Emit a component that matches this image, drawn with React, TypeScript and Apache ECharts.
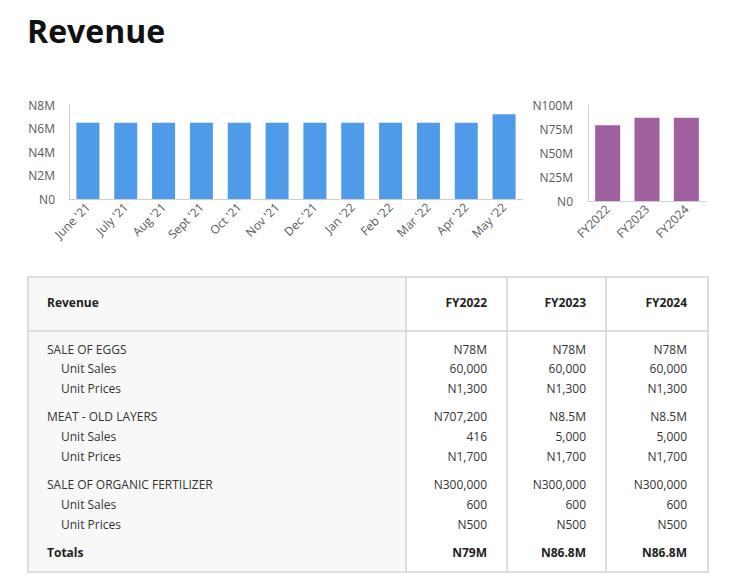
import React, { useEffect, useRef } from "react";
import * as echarts from "echarts";

const months = ["June '21", "July '21", "Aug '21", "Sept '21", "Oct '21", "Nov '21", "Dec '21", "Jan '22", "Feb '22", "Mar '22", "Apr '22", "May '22"];
const monthlyRevenue = [6.5e6, 6.5e6, 6.5e6, 6.5e6, 6.5e6, 6.5e6, 6.5e6, 6.5e6, 6.5e6, 6.5e6, 6.5e6, 7.207e6];
const years = ["FY2022", "FY2023", "FY2024"];
const yearlyRevenue = [79.0e6, 86.8e6, 86.8e6];

const tableHeader = ["Revenue", "FY2022", "FY2023", "FY2024"];
const rowLabels = ["SALE OF EGGS", "Unit Sales", "Unit Prices", "MEAT - OLD LAYERS", "Unit Sales", "Unit Prices", "SALE OF ORGANIC FERTILIZER", "Unit Sales", "Unit Prices", "Totals"];
const rowIndent = [false, true, true, false, true, true, false, true, true, false];
const colFY2022 = ["N78M", "60,000", "N1,300", "N707,200", "416", "N1,700", "N300,000", "600", "N500", "N79M"];
const colFY2023 = ["N78M", "60,000", "N1,300", "N8.5M", "5,000", "N1,700", "N300,000", "600", "N500", "N86.8M"];
const colFY2024 = ["N78M", "60,000", "N1,300", "N8.5M", "5,000", "N1,700", "N300,000", "600", "N500", "N86.8M"];

const FONT = "'Open Sans', 'Noto Sans', sans-serif";

const fmt = (v: number) => (v === 0 ? "N0" : "N" + v / 1e6 + "M");

export default function App() {
  const ref = useRef<HTMLDivElement>(null);
  useEffect(() => {
    if (!ref.current) return;
    const chart = echarts.init(ref.current, undefined, { renderer: "svg" });
    const axisLabel = { color: "#595959", fontSize: 12, fontFamily: FONT };
    chart.setOption({
      animation: false,
      grid: [
        { left: 69, top: 25, width: 454, height: 94 },
        { left: 588, top: 25, width: 118, height: 96 },
      ],
      xAxis: [
        {
          type: "category", gridIndex: 0, data: months,
          axisTick: { show: false },
          axisLine: { lineStyle: { color: "#d0d0d0" } },
          axisLabel: { ...axisLabel, rotate: 45, margin: 6, interval: 0 },
        },
        {
          type: "category", gridIndex: 1, data: years,
          axisTick: { show: false },
          axisLine: { lineStyle: { color: "#d0d0d0" } },
          axisLabel: { ...axisLabel, rotate: 45, margin: 6, interval: 0 },
        },
      ],
      yAxis: [
        {
          type: "value", gridIndex: 0, min: 0, max: 8e6, interval: 2e6,
          axisLine: { show: true, lineStyle: { color: "#d0d0d0" } },
          axisTick: { show: false },
          splitLine: { show: false },
          axisLabel: { ...axisLabel, margin: 14, formatter: fmt },
        },
        {
          type: "value", gridIndex: 1, min: 0, max: 100e6, interval: 25e6,
          axisLine: { show: true, lineStyle: { color: "#d0d0d0" } },
          axisTick: { show: false },
          splitLine: { show: false },
          axisLabel: { ...axisLabel, margin: 15, formatter: fmt },
        },
      ],
      series: [
        { type: "bar", xAxisIndex: 0, yAxisIndex: 0, data: monthlyRevenue, barWidth: 23, itemStyle: { color: "#4f9be9" } },
        { type: "bar", xAxisIndex: 1, yAxisIndex: 1, data: yearlyRevenue, barWidth: 25, itemStyle: { color: "#a0609f" } },
      ],
    });
    return () => chart.dispose();
  }, []);

  const colX = [27, 406, 507, 606, 707];
  const rowY = [350, 369, 389, 417, 437, 457, 485, 505, 525, 553];
  const border = "#dadde2";
  const textStyle: React.CSSProperties = { position: "absolute", fontFamily: FONT, fontSize: 12, color: "#333", lineHeight: "16px", whiteSpace: "nowrap" };
  const cols = [colFY2022, colFY2023, colFY2024];

  return (
    <div style={{ position: "absolute", left: 0, top: 0, width: 746, height: 579, background: "#fff", overflow: "hidden" }}>
      <div style={{ position: "absolute", left: 27, top: 11, fontFamily: FONT, fontWeight: 700, fontSize: 32, color: "#111", lineHeight: "40px" }}>Revenue</div>
      <div ref={ref} style={{ position: "absolute", left: 0, top: 80, width: 746, height: 190 }} />
      {/* table */}
      <div style={{ position: "absolute", left: colX[0], top: 276, width: colX[1] - colX[0], height: 295, background: "#f8f8f8" }} />
      <div style={{ position: "absolute", left: colX[0], top: 276, width: colX[4] - colX[0] - 2, height: 293, border: `2px solid ${border}` }} />
      <div style={{ position: "absolute", left: colX[0], top: 330, width: colX[4] - colX[0], height: 2, background: border }} />
      {[1, 2, 3].map((i) => (
        <div key={i} style={{ position: "absolute", left: colX[i] - 1, top: 276, width: 2, height: 295, background: border }} />
      ))}
      <div style={{ ...textStyle, left: 47, top: 303 - 8, fontWeight: 700, color: "#222" }}>{tableHeader[0]}</div>
      {[1, 2, 3].map((i) => (
        <div key={i} style={{ ...textStyle, right: 746 - (colX[i + 1] - 20), top: 303 - 8, fontWeight: 700, color: "#222" }}>{tableHeader[i]}</div>
      ))}
      {rowLabels.map((lab, r) => (
        <div key={"l" + r} style={{ ...textStyle, left: rowIndent[r] ? 61 : 47, top: rowY[r] - 8, fontWeight: r === rowLabels.length - 1 ? 700 : 400, color: r === rowLabels.length - 1 ? "#222" : "#333" }}>{lab}</div>
      ))}
      {cols.map((col, c) =>
        col.map((v, r) => (
          <div key={c + "-" + r} style={{ ...textStyle, right: 746 - (colX[c + 2] - 20), top: rowY[r] - 8, fontWeight: r === rowLabels.length - 1 ? 700 : 400, color: r === rowLabels.length - 1 ? "#222" : "#333" }}>{v}</div>
        ))
      )}
    </div>
  );
}
